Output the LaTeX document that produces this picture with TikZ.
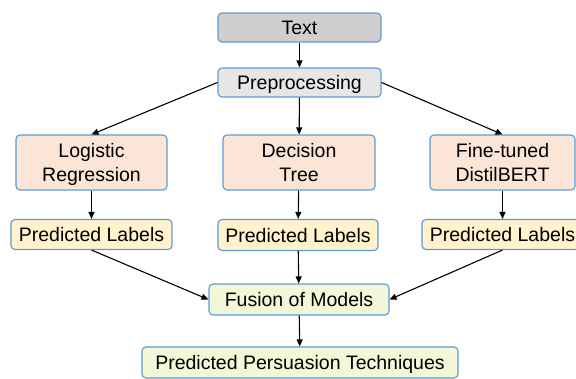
\documentclass[tikz,border=0pt]{standalone}
\usepackage{fontspec}
\setmainfont{Liberation Sans}
\usetikzlibrary{arrows.meta}
\definecolor{bord}{HTML}{5B9BD5}
\definecolor{cgray}{HTML}{D0CECE}
\definecolor{clgray}{HTML}{E7E6E6}
\definecolor{cpeach}{HTML}{FBE5D6}
\definecolor{cyell}{HTML}{FFF2CC}
\definecolor{cgreen}{HTML}{F0F8D8}
\tikzset{
  box/.style={draw=bord, line width=1.1bp, rounded corners=4bp, inner sep=0pt, align=center,
    text depth=0bp, font=\fontsize{19.5bp}{23.5bp}\selectfont},
  arr/.style={-{Triangle[length=7bp,width=6bp]}, line width=1.1bp, black},
}
\begin{document}
\begin{tikzpicture}[x=1bp,y=-1bp]
\useasboundingbox (0,0) rectangle (576,378);
\clip (0,0) rectangle (576,378);
\node[box, fill=cgray, minimum width=163bp, minimum height=29bp] (text) at (299.5,27.5) {Text};
\node[box, fill=clgray, minimum width=163bp, minimum height=29bp] (pre) at (299.5,82.5) {Preprocessing};
\node[box, fill=cpeach, minimum width=151bp, minimum height=55bp] (lr) at (91.5,162.5) {Logistic\\Regression};
\node[box, fill=cpeach, minimum width=152bp, minimum height=55bp] (dt) at (299,162.5) {Decision\\Tree};
\node[box, fill=cpeach, minimum width=145bp, minimum height=55bp] (db) at (502.5,162.5) {Fine-tuned\\DistilBERT};
\node[box, fill=cyell, minimum width=161bp, minimum height=30bp] (pl1) at (91.5,234.5) {Predicted Labels};
\node[box, fill=cyell, minimum width=160bp, minimum height=31bp] (pl2) at (298,235) {Predicted Labels};
\node[box, fill=cyell, minimum width=161bp, minimum height=30bp] (pl3) at (502.5,234.5) {Predicted Labels};
\node[box, fill=cgreen, minimum width=180bp, minimum height=31bp] (fus) at (299,299.5) {Fusion of Models};
\node[box, fill=cgreen, minimum width=316bp, minimum height=31bp] (ppt) at (300,362.5) {Predicted Persuasion Techniques};
\draw[arr] (text) -- (pre);
\draw[arr] (pre.west) -- (lr.north);
\draw[arr] (pre) -- (dt);
\draw[arr] (pre.east) -- (db.north);
\draw[arr] (lr) -- (pl1);
\draw[arr] (dt) -- (pl2);
\draw[arr] (db) -- (db|-pl3.north);
\draw[arr] (pl1.south) -- (fus.west);
\draw[arr] (pl2) -- (fus);
\draw[arr] (db|-pl3.south) -- (fus.east);
\draw[arr] (fus) -- (ppt);
\end{tikzpicture}
\end{document}
